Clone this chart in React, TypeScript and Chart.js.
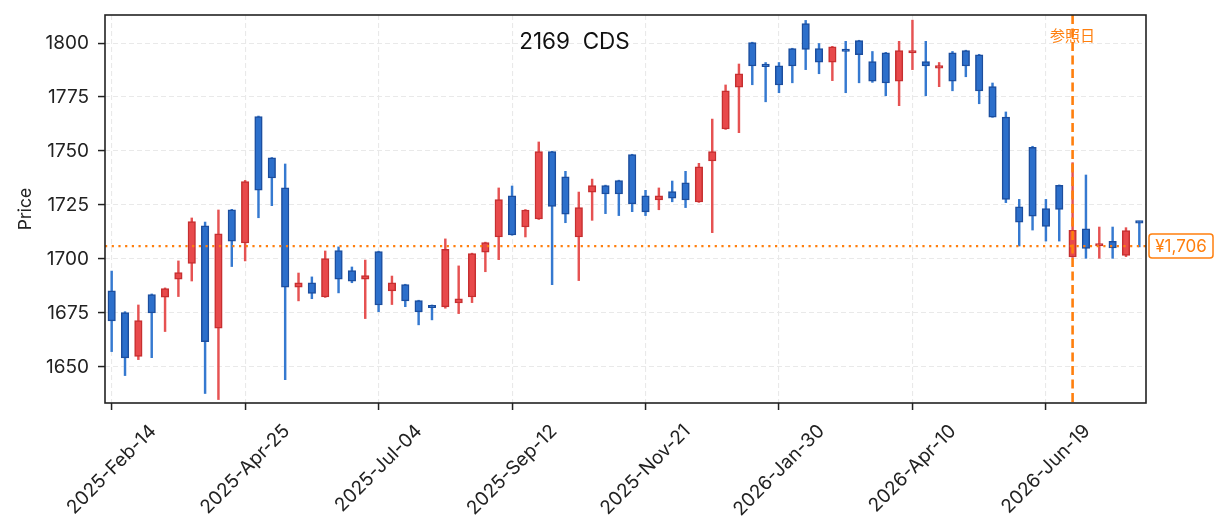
import { useEffect, useRef } from 'react';
import { Chart, registerables } from 'chart.js';

Chart.register(...registerables);

// Weekly candles (Friday dates)
const weeks = [
  '2025-Feb-14', '2025-Feb-21', '2025-Feb-28', '2025-Mar-07', '2025-Mar-14', '2025-Mar-21', '2025-Mar-28',
  '2025-Apr-04', '2025-Apr-11', '2025-Apr-18', '2025-Apr-25', '2025-May-02', '2025-May-09', '2025-May-16',
  '2025-May-23', '2025-May-30', '2025-Jun-06', '2025-Jun-13', '2025-Jun-20', '2025-Jun-27', '2025-Jul-04',
  '2025-Jul-11', '2025-Jul-18', '2025-Jul-25', '2025-Aug-01', '2025-Aug-08', '2025-Aug-15', '2025-Aug-22',
  '2025-Aug-29', '2025-Sep-05', '2025-Sep-12', '2025-Sep-19', '2025-Sep-26', '2025-Oct-03', '2025-Oct-10',
  '2025-Oct-17', '2025-Oct-24', '2025-Oct-31', '2025-Nov-07', '2025-Nov-14', '2025-Nov-21', '2025-Nov-28',
  '2025-Dec-05', '2025-Dec-12', '2025-Dec-19', '2025-Dec-26', '2026-Jan-02', '2026-Jan-09', '2026-Jan-16',
  '2026-Jan-23', '2026-Jan-30', '2026-Feb-06', '2026-Feb-13', '2026-Feb-20', '2026-Feb-27', '2026-Mar-06',
  '2026-Mar-13', '2026-Mar-20', '2026-Mar-27', '2026-Apr-03', '2026-Apr-10', '2026-Apr-17', '2026-Apr-24',
  '2026-May-01', '2026-May-08', '2026-May-15', '2026-May-22', '2026-May-29', '2026-Jun-05', '2026-Jun-12',
  '2026-Jun-19', '2026-Jun-26', '2026-Jul-03', '2026-Jul-10', '2026-Jul-17', '2026-Jul-24', '2026-Jul-31',
  '2026-Aug-07',
];

const opens = [
  1685.2, 1675.2, 1654.9, 1683.5, 1682.3, 1690.6, 1698.0, 1715.4, 1667.9, 1722.8,
  1707.4, 1765.9, 1746.8, 1733.0, 1687.0, 1689.0, 1682.4, 1703.9, 1694.6, 1690.6,
  1703.4, 1685.2, 1688.1, 1680.7, 1678.3, 1677.8, 1679.6, 1682.4, 1703.2, 1710.2,
  1729.3, 1714.8, 1718.5, 1749.7, 1738.1, 1710.2, 1731.0, 1734.0, 1736.3, 1748.3,
  1729.3, 1727.3, 1731.2, 1735.3, 1726.4, 1745.4, 1760.2, 1779.6, 1800.2, 1790.0,
  1789.5, 1797.4, 1809.0, 1797.4, 1791.2, 1797.0, 1801.1, 1791.4, 1795.5, 1782.4,
  1795.4, 1791.4, 1788.4, 1795.5, 1796.5, 1794.6, 1779.8, 1765.7, 1724.2, 1751.7,
  1723.3, 1734.1, 1700.9, 1714.0, 1706.0, 1708.2, 1701.7, 1717.4,
];

const highs = [
  1694.4, 1675.6, 1678.7, 1683.8, 1686.6, 1699.1, 1719.0, 1717.1, 1722.7, 1723.0,
  1736.4, 1766.2, 1747.0, 1744.0, 1693.5, 1691.7, 1703.7, 1705.6, 1696.3, 1699.5,
  1703.6, 1692.1, 1688.3, 1680.9, 1678.7, 1709.3, 1696.8, 1702.7, 1707.8, 1732.9,
  1733.8, 1722.9, 1754.2, 1749.9, 1740.6, 1731.0, 1737.0, 1734.2, 1736.5, 1748.5,
  1731.8, 1732.9, 1736.1, 1740.6, 1744.3, 1764.8, 1780.6, 1790.3, 1800.4, 1791.0,
  1791.0, 1797.6, 1810.5, 1799.8, 1798.5, 1800.8, 1801.3, 1796.1, 1795.7, 1800.8,
  1810.6, 1800.8, 1791.0, 1796.1, 1796.7, 1794.8, 1781.5, 1768.1, 1727.6, 1752.2,
  1727.6, 1734.3, 1744.6, 1738.9, 1714.8, 1714.8, 1714.5, 1717.5,
];

const lows = [
  1657.1, 1646.0, 1653.4, 1654.3, 1666.4, 1682.6, 1689.8, 1637.7, 1634.9, 1696.5,
  1699.1, 1719.1, 1724.7, 1644.1, 1680.6, 1681.6, 1682.2, 1684.3, 1689.0, 1672.4,
  1675.6, 1678.9, 1677.9, 1669.5, 1671.8, 1677.2, 1674.7, 1679.8, 1694.1, 1699.7,
  1711.0, 1710.2, 1718.3, 1688.1, 1716.8, 1690.0, 1717.9, 1721.0, 1720.1, 1721.9,
  1720.1, 1722.8, 1726.5, 1723.8, 1726.2, 1712.2, 1760.0, 1758.5, 1780.7, 1772.8,
  1777.0, 1781.6, 1787.7, 1785.8, 1782.6, 1777.0, 1781.6, 1781.8, 1775.6, 1771.0,
  1787.7, 1775.6, 1779.8, 1777.9, 1784.4, 1771.9, 1765.6, 1726.1, 1706.0, 1713.4,
  1708.3, 1708.3, 1700.7, 1700.3, 1700.3, 1700.3, 1701.1, 1705.6,
];

const closes = [
  1671.3, 1654.2, 1671.5, 1675.0, 1686.3, 1693.7, 1717.3, 1661.7, 1711.7, 1708.3,
  1735.8, 1731.9, 1737.5, 1687.0, 1689.0, 1684.1, 1700.2, 1690.6, 1689.7, 1692.3,
  1678.7, 1689.0, 1680.6, 1675.5, 1677.4, 1704.5, 1681.6, 1702.5, 1707.6, 1727.5,
  1711.1, 1722.7, 1749.7, 1724.4, 1720.8, 1723.8, 1734.0, 1730.1, 1730.1, 1725.5,
  1721.8, 1729.3, 1728.2, 1727.3, 1742.7, 1749.7, 1777.9, 1785.8, 1789.4, 1789.1,
  1780.6, 1789.4, 1797.1, 1791.2, 1798.3, 1796.1, 1794.6, 1782.3, 1781.5, 1796.5,
  1796.5, 1789.4, 1789.5, 1782.3, 1789.4, 1777.8, 1765.7, 1727.6, 1717.1, 1719.8,
  1715.1, 1723.0, 1713.3, 1704.9, 1707.1, 1705.1, 1713.1, 1716.6,
];

const xTickLabels = [
  '2025-Feb-14', '2025-Apr-25', '2025-Jul-04', '2025-Sep-12',
  '2025-Nov-21', '2026-Jan-30', '2026-Apr-10', '2026-Jun-19',
];
const yTicks = [1650, 1675, 1700, 1725, 1750, 1775, 1800];
const yMin = 1633.3;
const yMax = 1813.0;
const lastPrice = 1706;
const lastPriceLabel = '¥1,706';
const refDate = '2026-Jul-03';
const refLabel = '参照日';
const chartTitle = '2169  CDS';
const yLabel = 'Price';

const ORANGE = '#ff7f0e';
const RED_FILL = '#e8494b';
const RED_EDGE = '#c62f30';
const RED_WICK = '#e65252';
const BLUE_FILL = '#2c6fcb';
const BLUE_EDGE = '#1c4e9e';
const BLUE_WICK = '#3579d0';
const INK = '#222222';
const GRID = '#e9e9e9';
const FONT = 'Inter, "Noto Sans", sans-serif';
const CJK = '"Noto Sans CJK JP", sans-serif';

const overlayPlugin = {
  id: 'overlay',
  afterDatasetsDraw(chart: any) {
    const { ctx, chartArea: a, scales } = chart;
    const x = scales.x;
    const y = scales.y;
    ctx.save();
    const py = y.getPixelForValue(lastPrice);
    ctx.strokeStyle = ORANGE;
    ctx.lineWidth = 2.2;
    ctx.setLineDash([2.2, 4.5]);
    ctx.beginPath();
    ctx.moveTo(a.left, py);
    ctx.lineTo(a.right, py);
    ctx.stroke();

    const rx = x.getPixelForValue(weeks.indexOf(refDate));
    ctx.lineWidth = 2.6;
    ctx.setLineDash([9, 4.5]);
    ctx.beginPath();
    ctx.moveTo(rx, a.top);
    ctx.lineTo(rx, a.bottom);
    ctx.stroke();
    ctx.restore();
  },
  afterDraw(chart: any) {
    const { ctx, chartArea: a, scales } = chart;
    const x = scales.x;
    const y = scales.y;
    ctx.save();
    // frame
    ctx.strokeStyle = INK;
    ctx.lineWidth = 1.6;
    ctx.setLineDash([]);
    ctx.strokeRect(a.left, a.top, a.right - a.left, a.bottom - a.top);

    // title
    ctx.fillStyle = '#111111';
    ctx.font = `22.5px ${FONT}`;
    ctx.textAlign = 'center';
    ctx.textBaseline = 'middle';
    ctx.fillText(chartTitle, a.left + 0.451 * (a.right - a.left), a.top + 27);

    // reference label
    const rx = x.getPixelForValue(weeks.indexOf(refDate));
    ctx.fillStyle = ORANGE;
    ctx.font = `15px ${CJK}`;
    ctx.fillText(refLabel, rx, a.top + 20);

    // last price box
    const py = y.getPixelForValue(lastPrice);
    const bx = a.right + 3;
    const bw = 64;
    const bh = 24;
    ctx.beginPath();
    if (ctx.roundRect) ctx.roundRect(bx, py - bh / 2, bw, bh, 3);
    else ctx.rect(bx, py - bh / 2, bw, bh);
    ctx.fillStyle = '#ffffff';
    ctx.fill();
    ctx.strokeStyle = ORANGE;
    ctx.lineWidth = 1.5;
    ctx.stroke();
    ctx.fillStyle = ORANGE;
    ctx.font = `17px ${FONT}`;
    ctx.fillText(lastPriceLabel, bx + bw / 2, py + 1);

    // rotated x tick labels (centered under tick)
    ctx.fillStyle = INK;
    ctx.font = `19px ${FONT}`;
    for (const t of x.ticks) {
      const text = weeks[t.value];
      const px = x.getPixelForValue(t.value);
      const w = ctx.measureText(text).width;
      const H = (w + 14) * Math.SQRT1_2;
      const cy = a.bottom + 20 + H / 2;
      ctx.save();
      ctx.translate(px, cy);
      ctx.rotate(-Math.PI / 4);
      ctx.textAlign = 'center';
      ctx.textBaseline = 'middle';
      ctx.fillText(text, 0, 0);
      ctx.restore();
    }
    ctx.restore();
  },
};

export default function App() {
  const ref = useRef<HTMLCanvasElement | null>(null);

  useEffect(() => {
    if (!ref.current) return;
    const ups = weeks.map((_, i) => closes[i] >= opens[i]);
    const chart = new Chart(ref.current, {
      type: 'bar',
      data: {
        labels: weeks,
        datasets: [
          {
            label: 'body',
            data: weeks.map((_, i) => [opens[i], closes[i]]) as any,
            backgroundColor: ups.map((u) => (u ? RED_FILL : BLUE_FILL)),
            borderColor: ups.map((u) => (u ? RED_EDGE : BLUE_EDGE)),
            borderWidth: 1.5,
            borderSkipped: false,
            barThickness: 7.5,
            minBarLength: 2.5,
            grouped: false,
            order: 0,
          } as any,
          {
            label: 'wick',
            data: weeks.map((_, i) => [lows[i], highs[i]]) as any,
            backgroundColor: ups.map((u) => (u ? RED_WICK : BLUE_WICK)),
            borderWidth: 0,
            barThickness: 1.8,
            grouped: false,
            order: 1,
          } as any,
        ],
      },
      options: {
        animation: false,
        responsive: true,
        maintainAspectRatio: false,
        events: [],
        layout: { padding: { left: 0, right: 79, top: 15, bottom: 0 } },
        plugins: {
          legend: { display: false },
          title: { display: false },
          tooltip: { enabled: false },
        },
        scales: {
          x: {
            type: 'category',
            offset: true,
            grid: {
              offset: false,
              color: GRID,
              lineWidth: 1.1,
              drawTicks: true,
              tickLength: 7,
              tickColor: INK,
              tickWidth: 1.5,
              tickBorderDash: [],
              borderDash: [5, 3],
            } as any,
            border: { display: false, dash: [5, 3] },
            ticks: { display: false, autoSkip: false },
            afterBuildTicks: (scale: any) => {
              scale.ticks = scale.ticks.filter((t: any) => xTickLabels.includes(weeks[t.value]));
            },
            afterFit: (scale: any) => {
              scale.height = 129;
              scale.paddingLeft = 0;
              scale.paddingRight = 0;
            },
          },
          y: {
            type: 'linear',
            min: yMin,
            max: yMax,
            grid: {
              color: GRID,
              lineWidth: 1.1,
              drawTicks: true,
              tickLength: 7,
              tickColor: INK,
              tickWidth: 1.5,
              tickBorderDash: [],
              borderDash: [5, 3],
            } as any,
            border: { display: false, dash: [5, 3] },
            ticks: {
              color: INK,
              padding: 9,
              font: { family: FONT, size: 19 },
              callback: (v: any) => String(v),
            },
            title: {
              display: true,
              text: yLabel,
              color: INK,
              font: { family: FONT, size: 17.5 },
              padding: { top: 15, bottom: 0 },
            },
            afterBuildTicks: (scale: any) => {
              scale.ticks = yTicks.map((v) => ({ value: v }));
            },
            afterFit: (scale: any) => {
              scale.width = 105;
              scale.paddingTop = 0;
              scale.paddingBottom = 0;
            },
          },
        },
      },
      plugins: [overlayPlugin],
    });
    return () => chart.destroy();
  }, []);

  return (
    <div style={{ position: 'fixed', left: 0, top: 0, width: 1225, height: 532, background: '#ffffff' }}>
      <canvas ref={ref} />
    </div>
  );
}
